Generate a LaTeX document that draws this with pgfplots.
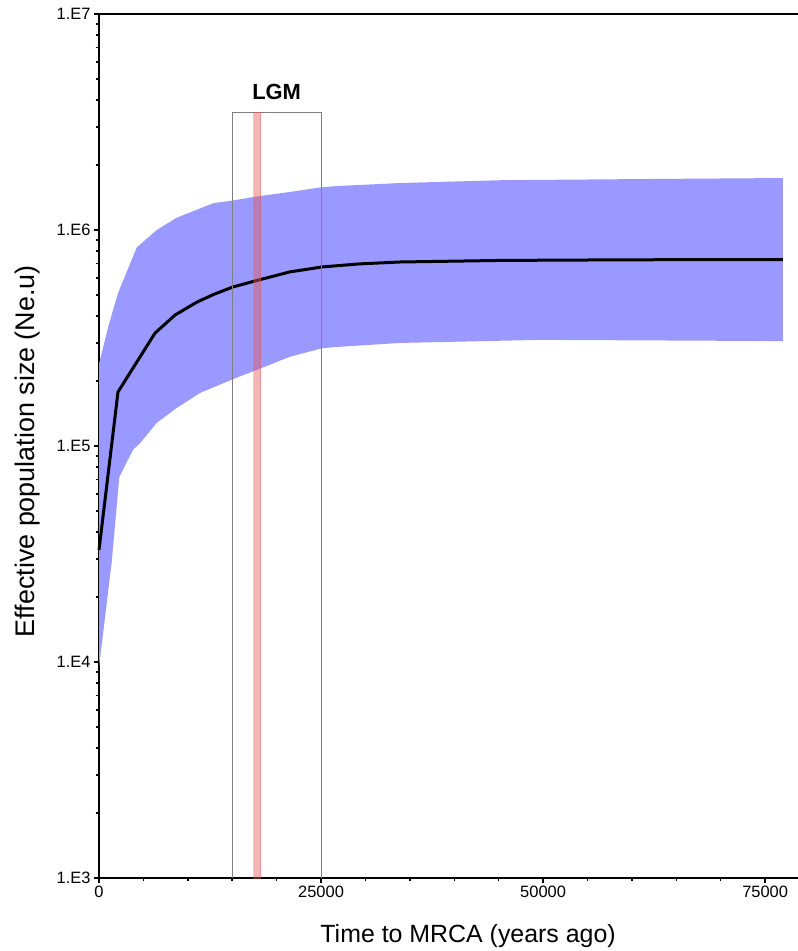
\documentclass[border=0pt]{standalone}
\usepackage{fontspec}
\setmainfont{Liberation Sans}
\usepackage{pgfplots}
\pgfplotsset{compat=1.18}
\usepgfplotslibrary{fillbetween}

\definecolor{bandblue}{RGB}{153,153,255}
\definecolor{lgmred}{RGB}{230,90,90}

\begin{document}
\begin{tikzpicture}
\begin{axis}[
  name=ax,
  scale only axis, width=699bp, height=864bp,
  ymode=log, xmin=0, xmax=78700, ymin=1e3, ymax=1e7,
  axis x line=box, axis y line=left,
  axis line style={-, line width=2bp, black},
  scaled x ticks=false,
  xtick={0,25000,50000,75000}, xticklabels={0,25000,50000,75000},
  minor xtick={5000,10000,15000,20000,30000,35000,40000,45000,55000,60000,65000,70000},
  ytick={1e3,1e4,1e5,1e6,1e7}, yticklabels={1.E3,1.E4,1.E5,1.E6,1.E7},
  minor ytick={2e3,3e3,4e3,5e3,6e3,7e3,8e3,9e3,2e4,3e4,4e4,5e4,6e4,7e4,8e4,9e4,2e5,3e5,4e5,5e5,6e5,7e5,8e5,9e5,2e6,3e6,4e6,5e6,6e6,7e6,8e6,9e6},
  xtick pos=left, ytick pos=left,
  tick align=outside,
  major tick length=5bp, minor tick length=3.5bp,
  tick style={black, line width=1.5bp},
  tick label style={font=\fontsize{16.5}{18}\selectfont},
  xlabel={Time to MRCA (years ago)},
  ylabel={Effective population size (Ne.u)},
  xlabel style={font=\fontsize{25}{28}\selectfont, at={([yshift=-64bp]axis description cs:0.528,0)}, anchor=base},
  ylabel style={font=\fontsize{27}{30}\selectfont, at={([xshift=-64bp]axis description cs:0,0.494)}, anchor=base},
  clip=false,
]
% 95% HPD band
\addplot[name path=upper, draw=none] coordinates {
 (0,2.4e5) (1070,3.6e5) (2140,5.1e5) (4250,8.3e5) (6500,1.0e6) (8750,1.14e6)
 (11000,1.24e6) (12840,1.33e6) (15090,1.37e6) (17760,1.43e6) (21500,1.50e6)
 (25200,1.58e6) (27140,1.60e6) (33900,1.65e6) (45200,1.70e6) (60000,1.72e6) (77000,1.74e6)};
\addplot[name path=lower, draw=none] coordinates {
 (0,9.5e3) (1420,2.87e4) (2290,7.2e4) (3830,9.6e4) (4620,1.03e5) (6500,1.28e5)
 (8750,1.5e5) (11370,1.76e5) (15090,2.04e5) (17760,2.25e5) (21500,2.59e5)
 (25200,2.84e5) (27140,2.88e5) (33900,3.0e5) (49700,3.1e5) (77000,3.06e5)};
\addplot[fill=bandblue, draw=none] fill between[of=upper and lower];
% median
\addplot[black, line width=3bp, line join=round] coordinates {
 (0,3.3e4) (2140,1.78e5) (6300,3.33e5) (8560,4.04e5) (11040,4.64e5)
 (13000,5.05e5) (15090,5.45e5) (17570,5.81e5) (21500,6.4e5) (25200,6.75e5) (29400,6.97e5)
 (33900,7.11e5) (45200,7.23e5) (60000,7.28e5) (77000,7.3e5)};
% LGM box
\addplot[draw=gray, line width=0.8bp] coordinates {
 (15000,1e3) (15000,3.52e6) (25000,3.52e6) (25000,1e3)};
\addplot[fill=lgmred, fill opacity=0.45, draw=lgmred, draw opacity=0.35, line width=0.5bp] coordinates {
 (17400,1e3) (17400,3.52e6) (18200,3.52e6) (18200,1e3)} -- cycle;
\node[font=\bfseries\fontsize{22}{24}\selectfont, anchor=base] at (axis cs:20000,4.04e6) {LGM};
\end{axis}
\pgfresetboundingbox
\path ([xshift=-99bp,yshift=-73bp]ax.south west) rectangle ([yshift=14bp]ax.north east);
\end{tikzpicture}
\end{document}
